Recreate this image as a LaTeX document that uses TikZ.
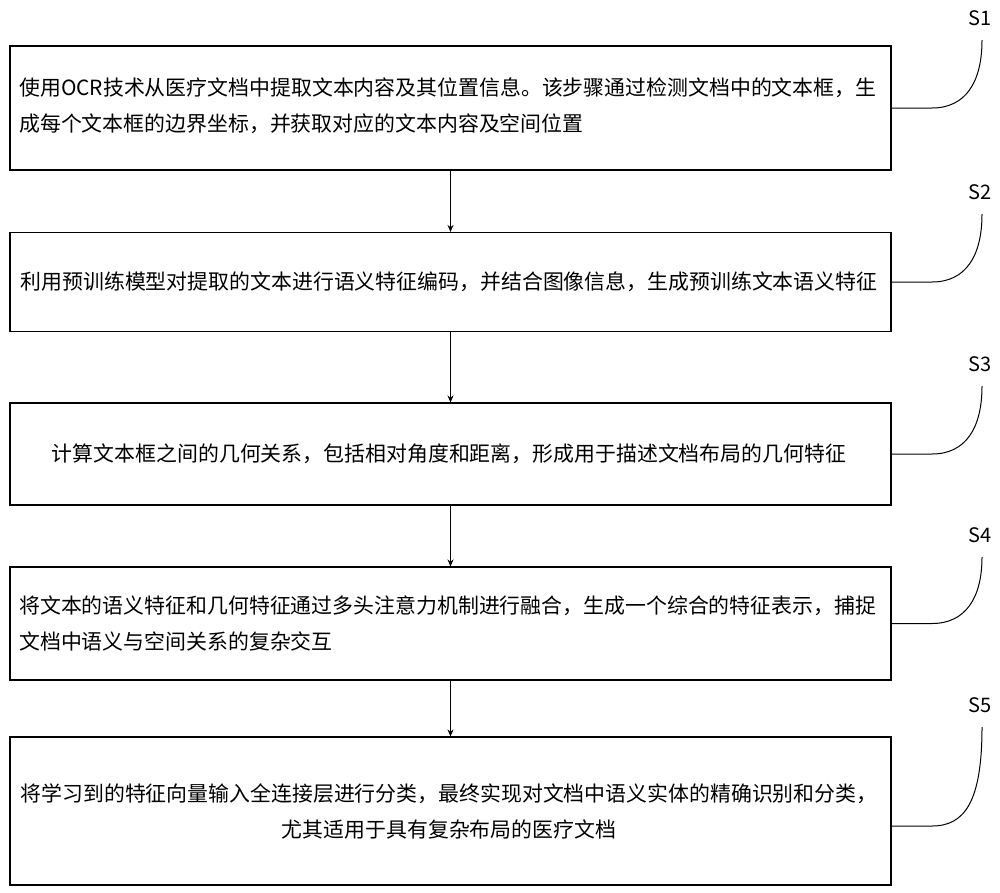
\documentclass[tikz,border=0pt]{standalone}
\usepackage{fontspec}
\setmainfont{Noto Sans CJK SC}
\usetikzlibrary{arrows.meta}
\begin{document}
\begin{tikzpicture}[x=1pt,y=-1pt,
  stepbox/.style={draw,line width=1.1pt,inner sep=0pt},
  txt/.style={font=\fontsize{20.9}{36}\selectfont,inner sep=0pt},
  conn/.style={line width=1pt,-{Stealth[length=7pt,width=6pt]}},
  lead/.style={line width=1pt},
  lab/.style={font=\fontsize{20}{24}\selectfont,inner sep=0pt}]
\useasboundingbox (0,0) rectangle (1000,892);
\node[stepbox,minimum width=881pt,minimum height=124pt] (b1) at (450.5,108) {};
\node[stepbox,minimum width=881pt,minimum height=99pt] (b2) at (450.5,282) {};
\node[stepbox,minimum width=881pt,minimum height=102pt] (b3) at (450.5,454) {};
\node[stepbox,minimum width=881pt,minimum height=113pt] (b4) at (450.5,623.5) {};
\node[stepbox,minimum width=881pt,minimum height=148pt] (b5) at (450.5,811) {};
\node[txt,anchor=west,align=left] (t1) at (19,106) {使用OCR技术从医疗文档中提取文本内容及其位置信息。该步骤通过检测文档中的文本框，生\\成每个文本框的边界坐标，并获取对应的文本内容及空间位置};
\node[txt] (t2) at (449,282) {利用预训练模型对提取的文本进行语义特征编码，并结合图像信息，生成预训练文本语义特征};
\node[txt] (t3) at (449,454) {计算文本框之间的几何关系，包括相对角度和距离，形成用于描述文档布局的几何特征};
\node[txt,anchor=west,align=left] (t4) at (19,623) {将文本的语义特征和几何特征通过多头注意力机制进行融合，生成一个综合的特征表示，捕捉\\文档中语义与空间关系的复杂交互};
\node[txt,align=center] (t5) at (449,811) {将学习到的特征向量输入全连接层进行分类，最终实现对文档中语义实体的精确识别和分类，\\尤其适用于具有复杂布局的医疗文档};
\draw[conn] (b1.south) -- (b2.north);
\draw[conn] (b2.south) -- (b3.north);
\draw[conn] (b3.south) -- (b4.north);
\draw[conn] (b4.south) -- (b5.north);
\foreach \i/\y/\ly in {1/108/18, 2/282/192, 3/454/364, 4/623.5/535, 5/826/705}{
  \node[lab] (s\i) at (980,\ly) {S\i};
  \coordinate (e\i) at (982,\ly+22);
  \draw[lead] (891,\y) -- (932,\y) .. controls (965,\y) and (982,\y-25) .. (e\i);
}
\end{tikzpicture}
\end{document}
